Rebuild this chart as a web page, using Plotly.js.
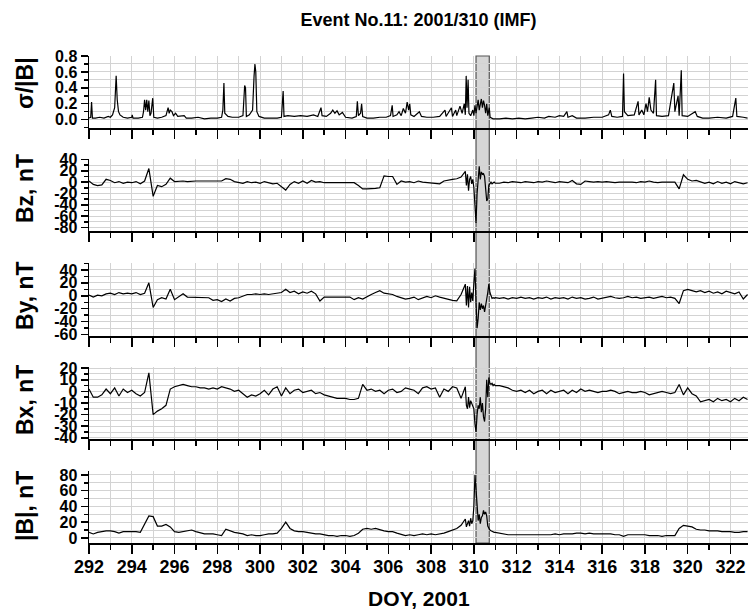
<!DOCTYPE html>
<html>
<head>
<meta charset="utf-8">
<script src="https://cdn.plot.ly/plotly-3.0.1.min.js"></script>
<style>html,body{margin:0;padding:0;background:#fff;}#chart{width:748px;height:613px;}</style>
</head>
<body>
<div id="chart"></div>
<script>
// Day of year 2001 for the field components (sampling times)
const doy = [
292.0,292.2,292.4,292.6,292.8,
293.0,293.2,293.4,293.6,293.8,
294.0,294.2,294.4,294.6,294.8,
295.0,295.2,295.4,295.6,295.8,
296.0,296.2,296.4,296.6,296.8,
297.0,297.2,297.4,297.6,297.8,
298.0,298.2,298.4,298.6,298.8,
299.0,299.2,299.4,299.6,299.8,
300.0,300.2,300.4,300.6,300.8,
301.0,301.2,301.4,301.6,301.8,
302.0,302.2,302.4,302.6,302.8,
303.0,303.2,303.4,303.6,303.8,
304.0,304.2,304.4,304.6,304.8,
305.0,305.2,305.4,305.6,305.8,
306.0,306.2,306.4,306.6,306.8,
307.0,307.2,307.4,307.6,307.8,
308.0,308.2,308.4,308.6,308.8,
309.0,309.2,309.4,309.6,
309.65,309.7,309.75,309.8,309.85,309.9,309.95,
310.0,310.05,310.1,310.15,310.2,310.25,310.3,310.35,310.4,310.45,310.5,
310.55,310.6,310.65,310.7,310.75,310.8,310.85,310.9,310.95,311.0,
311.2,311.4,311.6,311.8,
312.0,312.2,312.4,312.6,312.8,
313.0,313.2,313.4,313.6,313.8,
314.0,314.2,314.4,314.6,314.8,
315.0,315.2,315.4,315.6,315.8,
316.0,316.2,316.4,316.6,316.8,
317.0,317.2,317.4,317.6,317.8,
318.0,318.2,318.4,318.6,318.8,
319.0,319.2,319.4,319.6,319.8,
320.0,320.2,320.4,320.6,320.8,
321.0,321.2,321.4,321.6,321.8,
322.0,322.2,322.4,322.6,322.8
];

// Day of year for sigma/|B| (denser around the narrow spikes)
const sigDoy = [
292.0,292.08,292.12,292.16,292.3,292.5,292.7,292.9,
293.0,293.1,293.2,293.27,293.32,293.38,293.45,293.6,293.8,
294.0,294.02,294.06,294.3,294.5,294.55,294.6,294.65,294.7,294.75,294.8,294.85,294.9,294.98,
295.03,295.2,295.4,295.6,295.7,295.75,295.8,295.88,295.95,
296.05,296.15,296.45,296.55,296.8,
297.1,297.4,297.7,
298.0,298.2,298.26,298.31,298.35,298.5,298.7,
299.0,299.2,299.28,299.32,299.36,299.5,299.65,299.72,299.76,299.8,299.85,299.95,
300.2,300.5,300.8,
301.0,301.08,301.12,301.3,301.6,301.9,
302.2,302.5,302.7,302.85,302.9,
303.1,303.3,303.4,303.5,303.6,303.7,303.85,
304.0,304.3,304.5,304.55,304.6,304.7,304.75,304.8,
305.0,305.3,305.6,305.9,
306.1,306.18,306.22,306.4,306.5,306.6,306.7,306.8,306.88,306.95,
307.0,307.05,307.2,307.45,307.55,307.8,
308.1,308.4,308.65,308.7,308.95,
309.0,309.15,309.2,309.35,309.45,309.55,309.6,309.64,309.68,309.73,309.77,309.85,309.95,
310.0,310.05,310.1,310.15,310.2,310.25,310.3,310.35,310.4,310.45,310.5,310.55,310.6,310.65,310.72,310.76,310.9,
311.2,311.5,311.8,
312.1,312.4,312.7,
313.0,313.3,313.5,313.8,
314.0,314.2,314.35,314.4,314.6,314.8,
315.2,315.6,
316.0,316.3,316.38,316.45,316.7,316.95,
317.0,317.04,317.2,317.5,317.68,317.72,317.85,317.95,
318.05,318.12,318.2,318.28,318.4,318.5,318.54,318.8,
319.1,319.35,319.4,319.55,319.6,319.7,319.74,
320.0,320.35,320.45,320.7,
321.0,321.4,321.8,
322.1,322.25,322.3,322.6,322.8
];

// sigma/|B|
const sigmaB = [
0.02,0.03,0.22,0.02,0.02,0.03,0.02,0.04,
0.03,0.06,0.15,0.55,0.25,0.10,0.06,0.03,0.02,
0.03,0.06,0.02,0.02,0.03,0.10,0.25,0.12,0.25,0.10,0.24,0.05,0.08,0.27,
0.03,0.02,0.03,0.05,0.15,0.08,0.12,0.10,0.05,
0.08,0.04,0.05,0.02,0.02,
0.03,0.01,0.02,
0.02,0.03,0.12,0.46,0.08,0.04,0.03,
0.03,0.05,0.43,0.40,0.04,0.06,0.12,0.55,0.70,0.60,0.10,0.04,
0.02,0.02,0.02,
0.03,0.36,0.04,0.05,0.04,0.05,
0.04,0.06,0.04,0.15,0.05,
0.04,0.08,0.12,0.08,0.11,0.06,0.09,
0.03,0.02,0.04,0.23,0.05,0.08,0.20,0.04,
0.02,0.02,0.03,0.03,
0.05,0.18,0.04,0.06,0.10,0.05,0.14,0.08,0.22,0.12,
0.20,0.06,0.04,0.10,0.04,0.03,
0.03,0.04,0.12,0.04,0.15,
0.04,0.12,0.05,0.17,0.08,0.20,0.06,0.55,0.15,0.50,0.08,0.05,0.12,
0.05,0.18,0.08,0.20,0.25,0.12,0.22,0.26,0.15,0.24,0.18,0.08,0.20,0.05,0.15,0.03,0.01,
0.01,0.02,0.01,
0.02,0.01,0.02,
0.03,0.02,0.04,0.03,
0.05,0.04,0.10,0.03,0.05,0.02,
0.02,0.03,
0.03,0.06,0.12,0.04,0.03,0.04,
0.58,0.10,0.05,0.06,0.23,0.06,0.12,0.06,
0.20,0.10,0.28,0.12,0.08,0.50,0.05,0.04,
0.05,0.46,0.10,0.30,0.05,0.62,0.05,
0.04,0.10,0.04,0.02,
0.02,0.03,0.02,
0.04,0.27,0.04,0.03,0.02
];

// Bz, nT
const bz = [
2,-4,-6,-5,5,
3,-1,1,-2,0,
-1,1,-3,2,24,
-25,-6,-8,-4,7,
1,2,2,1,2,
2,2,2,2,2,
2,2,6,5,1,
0,-2,1,-1,0,
-2,1,-1,-3,-2,
-8,-14,-4,1,-2,
2,-2,3,0,1,
-1,-1,-1,-1,-1,
-1,-1,-1,-6,-12,
-12,-12,-11,-10,11,
10,10,-4,2,0,
1,-1,2,0,-1,
-1,-3,-3,2,4,
5,6,9,19,
-6,14,-15,5,10,-3,5,
-10,-40,-72,-20,10,28,5,18,14,15,10,
-15,-33,-30,-5,-3,0,-3,-1,0,-2,
-2,0,-1,1,
0,-1,1,0,-1,
1,0,2,0,-1,
1,0,-1,3,-3,
-4,2,1,0,1,
0,1,0,-1,0,
0,1,0,-1,1,
0,2,0,-1,0,
0,1,0,-12,13,
5,2,3,1,-2,
0,-3,1,-2,0,
-3,1,-1,-3,-1
];

// By, nT
const by = [
1,-2,1,0,3,
4,2,5,3,4,
3,5,2,4,20,
-18,-6,-3,-5,10,
-6,-2,3,-2,-2,
-2,-2,-2,-3,-7,
-6,-9,-5,-8,-4,
-3,0,2,2,3,
2,3,2,3,4,
5,10,5,7,3,
6,4,7,3,-8,
-2,-2,-2,-1,-2,
-2,-2,-6,-3,-5,
-1,2,5,8,4,
3,2,-1,-3,-5,
-4,-2,-6,-3,-1,
-3,0,-2,-4,-6,
-7,-8,2,18,
-15,15,-18,14,-10,5,-8,
20,42,-10,-50,-35,-10,-22,-12,-20,-15,-25,
-10,-5,5,18,5,-2,-4,-3,-4,-3,
-4,-3,-5,-3,
-4,-2,-4,-3,-5,
-3,-4,-2,-5,-3,
-4,-3,-5,-2,-4,
-3,-5,-4,-2,-5,
-4,-2,-1,-3,-4,
-3,-1,-3,-2,-4,
-3,-2,-4,-3,-1,
-3,-2,-4,-12,8,
10,8,6,8,5,
7,4,6,3,7,
5,3,6,-5,2
];

// Bx, nT
const bx = [
2,-5,-5,-3,2,
-2,3,-4,2,-1,
1,-2,-4,-1,16,
-20,-17,-15,-12,2,
4,5,6,5,4,
4,3,3,2,3,
2,4,3,2,0,
1,-2,-5,-3,-4,
-2,1,-3,2,4,
-4,3,-2,1,2,
-1,0,1,-2,-1,
-3,-4,-5,-6,-6,
-6,-7,-7,-6,6,
1,2,0,1,-2,
1,2,-1,0,3,
2,1,-2,3,4,
2,3,-5,2,0,
4,3,-6,4,
-12,-15,-5,-14,-8,-10,-12,
-15,-28,-35,-20,-12,-15,-5,-18,-10,-22,-26,
-15,10,-5,12,7,6,7,5,6,5,
5,4,3,1,
0,1,-1,1,-2,
0,1,-2,1,-1,
0,1,-2,1,-1,
2,0,1,0,-1,
0,0,1,0,-2,
-1,0,-1,-1,0,
-1,-3,-2,-1,0,
-1,-2,-1,6,-3,
3,-2,-4,-9,-8,
-7,-9,-6,-8,-7,
-9,-6,-8,-5,-7
];

// |B|, nT
const bmag = [
7,5,7,8,9,
9,8,6,8,8,
8,8,7,18,28,
27,15,15,17,14,
8,7,8,9,10,
8,6,5,5,5,
4,3,11,9,7,
6,5,3,4,3,
3,4,5,5,6,
12,20,12,9,8,
8,7,6,5,5,
4,3,3,2,3,
3,2,3,6,11,
12,11,12,10,9,
8,8,6,4,3,
4,3,4,5,4,
5,4,5,6,8,
10,12,16,24,
14,20,22,15,25,18,22,
40,80,62,45,22,30,18,26,28,35,30,
33,28,15,12,10,9,8,8,7,7,
6,5,4,4,
4,4,4,4,4,
4,4,4,4,5,
4,5,5,5,6,
6,5,6,5,5,
5,5,5,4,4,
2,4,4,4,4,
4,3,3,3,2,
3,3,3,12,16,
15,14,11,10,10,
9,9,9,8,8,
8,7,7,8,8
];

// Tick labels
const sigTicks = [0, 0.2, 0.4, 0.6, 0.8];
const sigTickText = ['0.0', '0.2', '0.4', '0.6', '0.8'];
const bzTicks = [-80, -60, -40, -20, 0, 20, 40];
const bzTickText = ['-80', '-60', '-40', '-20', '0', '20', '40'];
const byTicks = [-60, -40, -20, 0, 20, 40];
const byTickText = ['-60', '-40', '-20', '0', '20', '40'];
const bxTicks = [-40, -30, -20, -10, 0, 10, 20];
const bxTickText = ['-40', '-30', '-20', '-10', '0', '10', '20'];
const bTicks = [0, 20, 40, 60, 80];
const bTickText = ['0', '20', '40', '60', '80'];
const panelTitles = ['σ/|B|', 'Bz, nT', 'By, nT', 'Bx, nT', '|B|, nT'];
const eventStart = 310.1, eventEnd = 310.72;

const FONT = 'Liberation Sans, Arial, sans-serif';
const GRID = '#d3d3d3';

function xax(anchor, labels) {
  return {
    anchor: anchor, range: [292, 322.82], tick0: 292, dtick: 2,
    ticks: 'outside', ticklen: 9, tickwidth: 1.5, tickcolor: '#000',
    showline: true, linecolor: '#000', linewidth: 2,
    showgrid: true, gridcolor: GRID, gridwidth: 1, zeroline: false,
    showticklabels: labels, ticklabelstandoff: -3,
    tickfont: {family: FONT, size: 18, color: '#000', weight: 'bold'},
    minor: {tick0: 292, dtick: 1, ticks: 'outside', ticklen: 5, tickwidth: 1.5, tickcolor: '#000',
            showgrid: true, gridcolor: GRID, gridwidth: 1}
  };
}
function yax(anchor, domain, range, tv, tt, minorDt) {
  return {
    anchor: anchor, domain: domain, range: range,
    tickmode: 'array', tickvals: tv, ticktext: tt,
    ticks: 'outside', ticklen: 7, tickwidth: 1.5, tickcolor: '#000',
    showline: true, linecolor: '#000', linewidth: 1.5,
    showgrid: true, gridcolor: GRID, gridwidth: 1, zeroline: false,
    tickfont: {family: FONT, size: 16, color: '#000', weight: 'bold'},
    minor: {tick0: 0, dtick: minorDt, ticks: 'outside', ticklen: 4, tickwidth: 1.5, tickcolor: '#000',
            showgrid: true, gridcolor: GRID, gridwidth: 1}
  };
}

const lineStyle = {color: '#000', width: 1.2};
const data = [
  {x: sigDoy, y: sigmaB, xaxis: 'x', yaxis: 'y', type: 'scatter', mode: 'lines', line: lineStyle},
  {x: doy, y: bz, xaxis: 'x2', yaxis: 'y2', type: 'scatter', mode: 'lines', line: lineStyle},
  {x: doy, y: by, xaxis: 'x3', yaxis: 'y3', type: 'scatter', mode: 'lines', line: lineStyle},
  {x: doy, y: bx, xaxis: 'x4', yaxis: 'y4', type: 'scatter', mode: 'lines', line: lineStyle},
  {x: doy, y: bmag, xaxis: 'x5', yaxis: 'y5', type: 'scatter', mode: 'lines', line: lineStyle}
];

const domains = [[0.853, 1.0], [0.641, 0.7875], [0.426, 0.574], [0.2136, 0.3614], [0, 0.1478]];
const titleY = [83, 189, 296, 400, 506];
const annotations = panelTitles.map((t, i) => ({
  text: t, textangle: -90, xref: 'paper', yref: 'paper',
  x: (25 - 89) / 659, y: (543 - titleY[i]) / 487, xanchor: 'center', yanchor: 'middle',
  showarrow: false, font: {family: FONT, size: 23, color: '#000', weight: 'bold'}
}));
annotations.push({
  text: 'DOY, 2001', xref: 'paper', yref: 'paper', x: 0.5, y: (543 - 598) / 487,
  xanchor: 'center', yanchor: 'middle', showarrow: false,
  font: {family: FONT, size: 21, color: '#000', weight: 'bold'}
});

const layout = {
  width: 748, height: 613,
  margin: {l: 89, r: 0, t: 56, b: 70},
  paper_bgcolor: '#fff', plot_bgcolor: '#fff',
  showlegend: false,
  title: {text: 'Event No.11: 2001/310 (IMF)', x: 0.5, xref: 'paper', y: 1 - 20 / 613, yref: 'container',
          yanchor: 'middle', font: {family: FONT, size: 18, color: '#000', weight: 'bold'}},
  xaxis: xax('y', false), xaxis2: xax('y2', false), xaxis3: xax('y3', false),
  xaxis4: xax('y4', false), xaxis5: xax('y5', true),
  yaxis: yax('x', domains[0], [-0.1, 0.8], sigTicks, sigTickText, 0.1),
  yaxis2: yax('x2', domains[1], [-86, 40], bzTicks, bzTickText, 10),
  yaxis3: yax('x3', domains[2], [-61.5, 50], byTicks, byTickText, 10),
  yaxis4: yax('x4', domains[3], [-41, 21], bxTicks, bxTickText, 5),
  yaxis5: yax('x5', domains[4], [-6.5, 85], bTicks, bTickText, 10),
  shapes: [{type: 'rect', xref: 'x', yref: 'paper', x0: eventStart, x1: eventEnd, y0: 0, y1: 1,
            fillcolor: '#d6d6d6', line: {color: '#555', width: 1.2}, layer: 'between'}],
  annotations: annotations
};

Plotly.newPlot('chart', data, layout, {staticPlot: true, displayModeBar: false});
</script>
</body>
</html>
